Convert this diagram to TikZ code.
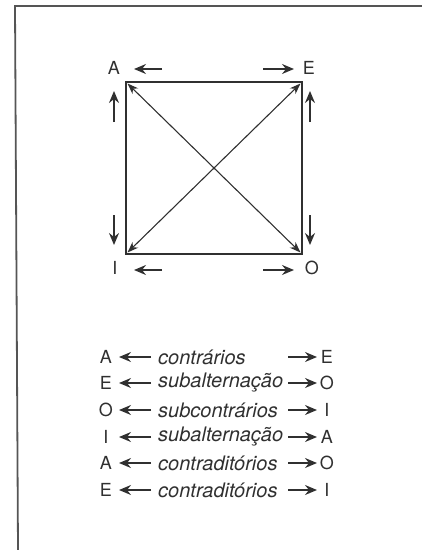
\documentclass[tikz,border=0pt]{standalone}
\usepackage{fontspec}
\setmainfont{TeX Gyre Heros}
\usetikzlibrary{arrows.meta}
\definecolor{ink}{HTML}{303030}
\definecolor{frame}{HTML}{555555}
\tikzset{
  letter/.style={font=\fontsize{18}{18}\selectfont, text=ink, inner sep=0pt},
  legtext/.style={font=\fontsize{20}{20}\selectfont\itshape, text=ink, inner sep=0pt, anchor=west},
  shortarr/.style={draw=ink, line width=1.6pt, -{Stealth[length=12pt,width=10pt,inset=4pt]}},
  diagarr/.style={draw=ink, line width=1.1pt, {Stealth[length=11pt,width=8pt,inset=3.5pt]}-{Stealth[length=11pt,width=8pt,inset=3.5pt]}},
  sqline/.style={draw=ink, line width=1.9pt},
  frameline/.style={draw=frame, line width=1.8pt}
}
\begin{document}
\begin{tikzpicture}[x=1pt,y=-1pt]
\useasboundingbox (0,0) rectangle (422,550);
% frame
\coordinate (f1) at (18,550);
\coordinate (f2) at (15,6);
\coordinate (f3) at (422,6);
\draw[frameline, line join=miter] (f1) -- (f2) -- (f3);
% square corners
\coordinate (tl) at (126,82);
\coordinate (tr) at (302,82);
\coordinate (br) at (302,254);
\coordinate (bl) at (126,254);
\draw[sqline, line join=miter] (tl) -- (tr) -- (br) -- (bl) -- cycle;
\draw[diagarr] ([shift={(1.5,1.5)}]tl) -- ([shift={(-1.5,-1.5)}]br);
\draw[diagarr] ([shift={(-1.5,1.5)}]tr) -- ([shift={(1.5,-1.5)}]bl);
% corner labels
\node[letter] (A) at (114,68) {A};
\node[letter] (E) at (309,68) {E};
\node[letter] (I) at (115,268) {I};
\node[letter] (O) at (312,268) {O};
% short arrows
\coordinate (a1s) at (162,69); \coordinate (a1e) at (134,69);
\coordinate (a2s) at (263,69); \coordinate (a2e) at (294,69);
\coordinate (a3s) at (114,122); \coordinate (a3e) at (114,91);
\coordinate (a4s) at (114,215); \coordinate (a4e) at (114,245);
\coordinate (a5s) at (310,122); \coordinate (a5e) at (310,91);
\coordinate (a6s) at (310,215); \coordinate (a6e) at (310,245);
\coordinate (a7s) at (162,270); \coordinate (a7e) at (134,270);
\coordinate (a8s) at (263,270); \coordinate (a8e) at (294,270);
\foreach \k in {1,...,8} \draw[shortarr] (a\k s) -- (a\k e);
% legend
\foreach \y/\l/\t/\r [count=\i] in {357/A/contrários/E, 383/E/subalternação/O, 410/O/subcontrários/I, 437/I/subalternação/A, 463/A/contraditórios/O, 490/E/contraditórios/I}{
  \node[letter] (L\i) at (106,\y) {\l};
  \node[legtext] (T\i) at (158,\y) {\t};
  \node[letter] (R\i) at (327,\y) {\r};
  \coordinate (ls\i) at (151,\y);
  \coordinate (le\i) at (119,\y);
  \coordinate (rs\i) at (288,\y);
  \coordinate (re\i) at (317,\y);
  \draw[shortarr] (ls\i) -- (le\i);
  \draw[shortarr] (rs\i) -- (re\i);
}
\end{tikzpicture}
\end{document}
